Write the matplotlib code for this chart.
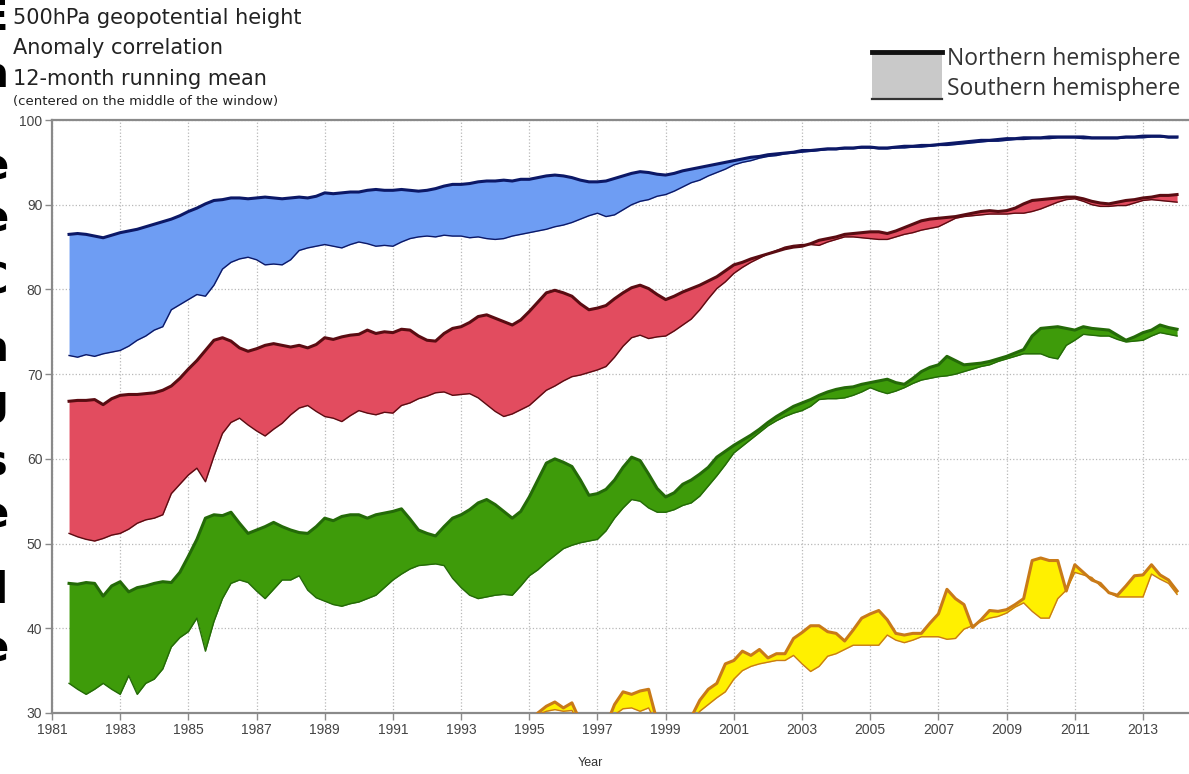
import numpy as np
import matplotlib
matplotlib.use("Agg")
import matplotlib.pyplot as plt
from matplotlib.patches import Rectangle
from matplotlib.lines import Line2D

# quarterly samples of the 12-month running mean, 1981.5 .. 2014.0
years = 1981.5 + 0.25 * np.arange(131)

blue_nh = [86.5, 86.6,
           86.5, 86.3, 86.1, 86.4,
           86.7, 86.9, 87.1, 87.4,
           87.7, 88.0, 88.3, 88.7,
           89.2, 89.6, 90.1, 90.5,
           90.6, 90.8, 90.8, 90.7,
           90.8, 90.9, 90.8, 90.7,
           90.8, 90.9, 90.8, 91.0,
           91.4, 91.3, 91.4, 91.5,
           91.5, 91.7, 91.8, 91.7,
           91.7, 91.8, 91.7, 91.6,
           91.7, 91.9, 92.2, 92.4,
           92.4, 92.5, 92.7, 92.8,
           92.8, 92.9, 92.8, 93.0,
           93.0, 93.2, 93.4, 93.5,
           93.4, 93.2, 92.9, 92.7,
           92.7, 92.8, 93.1, 93.4,
           93.7, 93.9, 93.8, 93.6,
           93.5, 93.7, 94.0, 94.2,
           94.4, 94.6, 94.8, 95.0,
           95.2, 95.4, 95.6, 95.7,
           95.9, 96.0, 96.1, 96.2,
           96.4, 96.4, 96.5, 96.6,
           96.6, 96.7, 96.7, 96.8,
           96.8, 96.7, 96.7, 96.8,
           96.9, 96.9, 97.0, 97.0,
           97.1, 97.2, 97.3, 97.4,
           97.5, 97.6, 97.6, 97.7,
           97.8, 97.8, 97.9, 97.9,
           97.9, 98.0, 98.0, 98.0,
           98.0, 98.0, 97.9, 97.9,
           97.9, 97.9, 98.0, 98.0,
           98.1, 98.1, 98.1, 98.0,
           98.0]
blue_sh = [72.2, 72.0,
           72.3, 72.1, 72.4, 72.6,
           72.8, 73.3, 74.0, 74.5,
           75.2, 75.6, 77.6, 78.2,
           78.8, 79.4, 79.2, 80.5,
           82.4, 83.2, 83.6, 83.8,
           83.5, 82.9, 83.0, 82.9,
           83.5, 84.6, 84.9, 85.1,
           85.3, 85.1, 84.9, 85.3,
           85.6, 85.4, 85.1, 85.2,
           85.1, 85.6, 86.0, 86.2,
           86.3, 86.2, 86.4, 86.3,
           86.3, 86.1, 86.2, 86.0,
           85.9, 86.0, 86.3, 86.5,
           86.7, 86.9, 87.1, 87.4,
           87.6, 87.9, 88.3, 88.7,
           89.0, 88.6, 88.8, 89.4,
           90.0, 90.4, 90.6, 91.0,
           91.2, 91.6, 92.1, 92.6,
           92.9, 93.4, 93.8, 94.2,
           94.7, 95.0, 95.2, 95.5,
           95.7, 95.8, 96.0, 96.1,
           96.2, 96.3, 96.4, 96.5,
           96.5, 96.6, 96.6, 96.7,
           96.7, 96.6, 96.6, 96.7,
           96.7, 96.8, 96.8, 96.9,
           97.0, 97.0, 97.1, 97.2,
           97.3, 97.4, 97.5, 97.5,
           97.6, 97.7, 97.7, 97.8,
           97.8, 97.8, 97.9, 97.9,
           97.9, 97.8, 97.8, 97.8,
           97.8, 97.8, 97.9, 97.9,
           97.9, 98.0, 98.0, 97.9,
           97.9]

red_nh = [66.8, 66.9,
          66.9, 67.0, 66.4, 67.1,
          67.5, 67.6, 67.6, 67.7,
          67.8, 68.1, 68.6, 69.5,
          70.6, 71.6, 72.8, 74.0,
          74.3, 73.9, 73.1, 72.7,
          73.0, 73.4, 73.6, 73.4,
          73.2, 73.4, 73.1, 73.5,
          74.3, 74.1, 74.4, 74.6,
          74.7, 75.2, 74.8, 75.0,
          74.9, 75.3, 75.2, 74.5,
          74.0, 73.9, 74.8, 75.4,
          75.6, 76.1, 76.8, 77.0,
          76.6, 76.2, 75.8, 76.4,
          77.4, 78.5, 79.6, 79.9,
          79.6, 79.2, 78.3, 77.6,
          77.8, 78.1, 78.9, 79.6,
          80.2, 80.5, 80.1, 79.4,
          78.8, 79.2, 79.7, 80.1,
          80.5, 81.0, 81.5, 82.2,
          82.9, 83.2, 83.6, 83.9,
          84.2, 84.5, 84.8, 85.0,
          85.1, 85.4, 85.8, 86.0,
          86.2, 86.5, 86.6, 86.7,
          86.8, 86.8, 86.6, 86.9,
          87.3, 87.7, 88.1, 88.3,
          88.4, 88.5, 88.6, 88.8,
          89.0, 89.2, 89.3, 89.2,
          89.3, 89.6, 90.1, 90.5,
          90.6, 90.7, 90.8, 90.9,
          90.9, 90.7, 90.4, 90.2,
          90.1, 90.3, 90.5, 90.6,
          90.8, 90.9, 91.1, 91.1,
          91.2]
red_sh = [51.2, 50.8,
          50.5, 50.3, 50.6, 51.0,
          51.2, 51.7, 52.4, 52.8,
          53.0, 53.4, 55.9, 57.0,
          58.1, 58.9, 57.3, 60.3,
          63.0, 64.3, 64.8, 64.0,
          63.3, 62.7, 63.5, 64.2,
          65.2, 66.0, 66.3, 65.6,
          65.0, 64.8, 64.4, 65.1,
          65.7, 65.4, 65.2, 65.5,
          65.4, 66.3, 66.6, 67.1,
          67.4, 67.8, 67.9, 67.5,
          67.6, 67.7, 67.2, 66.4,
          65.6, 65.0, 65.3, 65.8,
          66.3, 67.2, 68.1, 68.6,
          69.2, 69.7, 69.9, 70.2,
          70.5, 70.9, 72.0, 73.3,
          74.3, 74.6, 74.2, 74.4,
          74.5, 75.1, 75.8, 76.5,
          77.6, 78.9, 80.1, 80.9,
          81.9, 82.6, 83.2, 83.7,
          84.2, 84.6, 85.0, 85.2,
          85.3, 85.3, 85.2, 85.6,
          85.9, 86.2, 86.2, 86.1,
          86.0, 85.9, 85.9, 86.2,
          86.5, 86.7, 87.0, 87.2,
          87.4, 87.9, 88.4, 88.6,
          88.7, 88.8, 88.9, 88.9,
          88.9, 89.0, 89.0, 89.2,
          89.5, 89.9, 90.3, 90.6,
          90.7, 90.4, 90.0, 89.8,
          89.8, 89.9, 89.9, 90.2,
          90.5, 90.6, 90.5, 90.4,
          90.3]

green_nh = [45.3, 45.2,
            45.4, 45.3, 43.8, 45.0,
            45.5, 44.3, 44.8, 45.0,
            45.3, 45.5, 45.4, 46.6,
            48.5, 50.5, 53.0, 53.4,
            53.3, 53.7, 52.4, 51.2,
            51.6, 52.0, 52.5, 52.0,
            51.6, 51.3, 51.2, 52.0,
            53.0, 52.7, 53.2, 53.4,
            53.4, 53.0, 53.4, 53.6,
            53.8, 54.1, 52.9, 51.6,
            51.2, 50.9, 52.0, 53.0,
            53.4, 54.0, 54.8, 55.2,
            54.6, 53.8, 53.0, 53.8,
            55.5, 57.5, 59.5, 60.0,
            59.6, 59.1, 57.5, 55.7,
            55.9, 56.4, 57.5, 59.0,
            60.2, 59.8, 58.2, 56.5,
            55.5, 56.0, 57.0, 57.5,
            58.2, 59.0, 60.2, 60.9,
            61.6, 62.2, 62.8, 63.5,
            64.3, 65.0, 65.6, 66.2,
            66.6, 67.0, 67.5, 67.9,
            68.2, 68.4, 68.5, 68.8,
            69.0, 69.2, 69.4, 69.0,
            68.8, 69.5, 70.3, 70.8,
            71.1, 72.1, 71.6, 71.1,
            71.2, 71.3, 71.5, 71.8,
            72.1, 72.5, 72.9, 74.5,
            75.4, 75.5, 75.6, 75.4,
            75.2, 75.6, 75.4, 75.3,
            75.2, 74.6, 74.0, 74.4,
            74.9, 75.2, 75.8, 75.5,
            75.3]
green_sh = [33.5, 32.8,
            32.2, 32.8, 33.5, 32.8,
            32.2, 34.4, 32.2, 33.5,
            34.0, 35.2, 37.8, 38.9,
            39.6, 41.2, 37.3, 40.8,
            43.5, 45.3, 45.7, 45.4,
            44.4, 43.5, 44.6, 45.7,
            45.7, 46.2, 44.5, 43.6,
            43.2, 42.8, 42.6, 42.9,
            43.1, 43.5, 43.9, 44.8,
            45.7, 46.4, 47.0, 47.4,
            47.5, 47.6, 47.4, 45.9,
            44.8, 43.9, 43.5, 43.7,
            43.9, 44.0, 43.9, 45.0,
            46.2, 46.9, 47.8, 48.6,
            49.4, 49.8, 50.1, 50.3,
            50.5, 51.5, 53.0, 54.2,
            55.2, 55.0, 54.2, 53.7,
            53.7, 54.0, 54.5, 54.8,
            55.6, 56.8, 58.0, 59.3,
            60.7, 61.5, 62.3, 63.1,
            63.9, 64.5, 65.0, 65.4,
            65.7, 66.2, 67.0, 67.1,
            67.1, 67.2, 67.5, 67.9,
            68.4, 68.0, 67.7, 68.0,
            68.4, 68.9, 69.3, 69.5,
            69.7, 69.8, 70.0, 70.3,
            70.6, 70.9, 71.1, 71.5,
            71.8, 72.1, 72.4, 72.4,
            72.4, 72.0, 71.8, 73.4,
            74.0, 74.7, 74.6, 74.5,
            74.5, 74.1, 73.8, 73.9,
            74.0, 74.5, 74.9, 74.7,
            74.5]

# yellow curve is only above 30 from 1995 on
yellow_nh = [28.5, 30.0, 30.8, 31.3,
             30.6, 31.2, 29.0, 28.0,
             27.5, 28.5, 31.0, 32.5,
             32.2, 32.6, 32.8, 29.0,
             27.5, 27.0, 28.0, 29.5,
             31.5, 32.8, 33.5, 35.8,
             36.2, 37.3, 36.8, 37.5,
             36.5, 37.0, 37.0, 38.8,
             39.5, 40.3, 40.3, 39.6,
             39.4, 38.5, 39.8, 41.2,
             41.7, 42.1, 41.0, 39.4,
             39.2, 39.4, 39.4, 40.6,
             41.7, 44.6, 43.5, 42.8,
             40.1, 41.0, 42.1, 42.0,
             42.2, 42.8, 43.5, 48.0,
             48.3, 48.0, 48.0, 44.4,
             47.5, 46.6, 45.7, 45.3,
             44.2, 43.9, 45.0, 46.2,
             46.3, 47.5, 46.3, 45.7,
             44.4]
yellow_sh = [28.0, 29.8, 30.2, 30.4,
             30.2, 30.3, 28.5, 27.5,
             27.0, 28.0, 29.8, 30.5,
             30.6, 30.2, 30.6, 28.5,
             27.0, 26.5, 27.5, 29.0,
             30.2, 31.0, 31.8, 32.5,
             34.0, 35.0, 35.5, 35.8,
             36.0, 36.2, 36.2, 36.8,
             35.8, 34.9, 35.5, 36.7,
             37.0, 37.5, 38.0, 38.0,
             38.0, 38.0, 39.2, 38.6,
             38.3, 38.6, 39.0, 39.0,
             39.0, 38.7, 38.8, 39.9,
             40.3, 40.8, 41.2, 41.4,
             41.8, 42.5, 43.0, 42.0,
             41.2, 41.2, 43.5, 44.5,
             46.6, 46.3, 46.0, 45.0,
             44.2, 43.7, 43.7, 43.7,
             43.7, 46.4, 45.8, 45.3,
             44.0]
yellow_years = years[years >= 1995]

xticks = list(range(1981, 2014, 2))
yticks = list(range(30, 101, 10))

plt.rcParams['font.family'] = ['Liberation Sans', 'DejaVu Sans']

fig = plt.figure(figsize=(11.89, 7.74), dpi=100)
ax = fig.add_axes([52/1189, 1-713/774, 1-52/1189, (713-120)/774])

bands = [
    (years, blue_nh, blue_sh, '#6e9df3', '#0c1866'),
    (years, red_nh, red_sh, '#e24c5f', '#5a0c12'),
    (years, green_nh, green_sh, '#3e9b0a', '#246a08'),
    (yellow_years, yellow_nh, yellow_sh, '#fff000', '#c97a18'),
]
for x, nh, sh, fill, line in bands:
    ax.fill_between(x, nh, sh, color=fill, lw=0, zorder=2)
    ax.plot(x, sh, color=line, lw=1.0, zorder=3)
    ax.plot(x, nh, color=line, lw=2.2, zorder=4)

ax.set_xlim(1981, 2014.35)
ax.set_ylim(30, 100)
ax.set_xticks(xticks)
ax.set_yticks(yticks)
ax.grid(True, linestyle=':', color='#b8b8b8', lw=0.9, zorder=0)
for s in ['left', 'bottom', 'top']:
    ax.spines[s].set_color('#8a8a8a')
    ax.spines[s].set_linewidth(1.6)
ax.spines['right'].set_visible(False)
ax.tick_params(direction='out', length=5, width=1, color='#8a8a8a',
               labelsize=10, labelcolor='#444444', pad=2)

# titles
title_font = ['DejaVu Sans']
fig.text(13/1189, 1-18/774, '500hPa geopotential height', fontsize=15, va='center',
         color='#222222', family=title_font)
fig.text(13/1189, 1-48/774, 'Anomaly correlation', fontsize=15, va='center',
         color='#222222', family=title_font)
fig.text(13/1189, 1-79/774, '12-month running mean', fontsize=15, va='center',
         color='#222222', family=title_font)
fig.text(13/1189, 1-102/774, '(centered on the middle of the window)', fontsize=9.5, va='center',
         color='#222222', family=title_font)
fig.text(590/1189, 1-763/774, 'Year', fontsize=9, ha='center', va='center', color='#333333')

# legend drawn by hand
fig.patches.append(Rectangle((872/1189, 1-99/774), 70/1189, 47/774, transform=fig.transFigure,
                             facecolor='#c9c9c9', edgecolor='none'))
fig.lines.append(Line2D([872/1189, 942/1189], [1-52/774, 1-52/774], transform=fig.transFigure,
                        color='#111111', lw=3.5))
fig.lines.append(Line2D([872/1189, 942/1189], [1-99/774, 1-99/774], transform=fig.transFigure,
                        color='#333333', lw=1.6))
fig.text(947/1189, 1-59/774, 'Northern hemisphere', fontsize=16.5, va='center', color='#333333',
         family=['Open Sans', 'DejaVu Sans'])
fig.text(947/1189, 1-89/774, 'Southern hemisphere', fontsize=16.5, va='center', color='#333333',
         family=['Open Sans', 'DejaVu Sans'])

# clipped letters of neighbouring slide text at the left edge
edge_letters = [(18, 'E'), (75, 'a'), (167, 'e'), (220, 'e'), (282, 'C'), (350, 'a'),
                (403, 'g'), (463, 's'), (515, 'e'), (591, 'l'), (650, 'e')]
for ypx, ch in edge_letters:
    fig.text(8/1189, 1-ypx/774, ch, fontsize=30, fontweight='bold', ha='right', va='center',
             color='black', family=['DejaVu Sans'])

fig.savefig('out.png', dpi=100)
